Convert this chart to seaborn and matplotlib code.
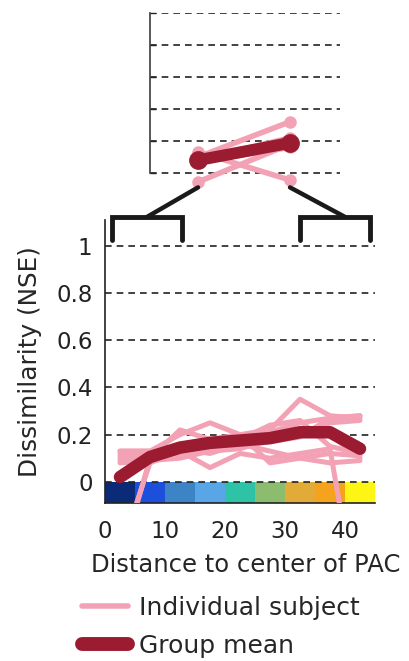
import numpy as np
import pandas as pd
import matplotlib.pyplot as plt
import seaborn as sns
from matplotlib.lines import Line2D
from matplotlib.patches import ConnectionPatch

# distance bins (mm from center of PAC)
distance = [2.5, 7.5, 12.5, 17.5, 22.5, 27.5, 32.5, 37.5, 42.5]
bin_left = [0, 5, 10, 15, 20, 25, 30, 35, 40]
bin_colors = ["#0b2a78", "#1c4fdc", "#3c84c6", "#58a6e6", "#2ec3a6",
              "#8cbd6e", "#e2ab37", "#f5a31c", "#fdf614"]

# individual subjects
subj_1 = [0.12, 0.12, 0.13, 0.14, 0.15, 0.17, 0.19, 0.27, 0.28]
subj_2 = [0.13, 0.13, 0.20, 0.25, 0.20, 0.22, 0.35, 0.28, 0.27]
subj_3 = [-0.35, 0.10, 0.15, 0.17, 0.17, 0.20, 0.22, 0.20, 0.10]
subj_4 = [-0.30, 0.08, 0.13, 0.06, 0.12, 0.10, 0.12, 0.14, -0.60]
subj_5 = [0.10, 0.11, 0.12, 0.15, 0.17, 0.21, 0.25, 0.27, 0.28]
subj_6 = [0.09, 0.10, 0.22, 0.18, 0.20, 0.08, 0.10, 0.12, 0.11]
subj_7 = [0.11, 0.12, 0.14, 0.12, 0.16, 0.13, 0.10, 0.08, 0.09]
subj_8 = [0.08, 0.09, 0.10, 0.13, 0.14, 0.18, 0.20, 0.25, 0.26]
subj_9 = [0.13, 0.13, 0.14, 0.16, 0.18, 0.24, 0.26, 0.15, 0.12]
group_mean = [0.02, 0.105, 0.145, 0.165, 0.175, 0.185, 0.21, 0.21, 0.14]

# inset: near vs far
inset_x = [1, 2]
inset_subj = [[0.066, -0.022], [-0.028, 0.09], [0.05, 0.16],
              [0.04, 0.11], [0.035, 0.08]]
inset_mean = [0.04, 0.094]

PINK = "#f3a2b5"
DARK = "#9b1b30"
GRID = "#222222"
W, H = 409, 661

subjects = [subj_1, subj_2, subj_3, subj_4, subj_5, subj_6, subj_7, subj_8,
            subj_9]
df = pd.DataFrame({
    "dist": distance * len(subjects),
    "nse": np.concatenate(subjects),
    "subject": np.repeat(np.arange(len(subjects)), len(distance)),
})
df_mean = pd.DataFrame({"dist": distance, "nse": group_mean})

sns.set_theme(style="white")
plt.rcParams["font.family"] = ["DejaVu Sans"]

fig = plt.figure(figsize=(W / 100, H / 100), dpi=100)
ax = fig.add_axes([105 / W, 1 - 503 / H, 270 / W, 283 / H])

# colour strip for distance bins
ax.bar(bin_left, [-0.09] * len(bin_left), width=5, bottom=0, align="edge",
       color=bin_colors, linewidth=0, zorder=1)

for v in np.arange(0, 1.01, 0.2):
    ax.axhline(v, color=GRID, lw=1.2, ls=(0, (4, 3)), zorder=2)

sns.lineplot(data=df, x="dist", y="nse", units="subject", estimator=None,
             color=PINK, lw=3.6, ax=ax, zorder=3, legend=False)
sns.lineplot(data=df_mean, x="dist", y="nse", color=DARK, lw=9,
             solid_capstyle="round", ax=ax, zorder=4, legend=False)

ax.set_xlim(0, 45)
ax.set_ylim(-0.09, 1.11)
ax.set_xticks([0, 10, 20, 30, 40])
ax.set_yticks([0, 0.2, 0.4, 0.6, 0.8, 1])
ax.set_yticklabels(["0", "0.2", "0.4", "0.6", "0.8", "1"])
ax.tick_params(direction="in", length=4, width=1, labelsize=16.5, pad=9,
               colors="#222222")
ax.tick_params(axis="x", pad=12)
for s in ["top", "right"]:
    ax.spines[s].set_visible(False)
for s in ["left", "bottom"]:
    ax.spines[s].set_color("#222222")
    ax.spines[s].set_linewidth(1.2)
ax.set_xlabel("Distance to center of PAC", fontsize=17.5, labelpad=8)
ax.xaxis.set_label_coords(0.52, -0.177)
ax.set_ylabel("Dissimilarity (NSE)", fontsize=17.8, labelpad=10)

# inset
ins = fig.add_axes([150 / W, 1 - 189 / H, 190 / W, 176 / H])
for v in np.arange(0, 0.51, 0.1):
    ins.axhline(v, color=GRID, lw=1.2, ls=(0, (4, 3)), zorder=1)
for vals in inset_subj:
    ins.plot(inset_x, vals, color=PINK, lw=4, marker="o", ms=8,
             solid_capstyle="round", zorder=2, clip_on=False)
ins.plot(inset_x, inset_mean, color=DARK, lw=8.5, marker="o", ms=12.5,
         solid_capstyle="round", zorder=3, clip_on=False)
ins.set_xlim(1 - 48 / 92, 2 + 50 / 92)
ins.set_ylim(-0.05, 0.5)
ins.set_xticks([])
ins.set_yticks(np.arange(0, 0.51, 0.1))
ins.set_yticklabels([])
ins.tick_params(axis="y", direction="in", length=4, width=1, left=True)
for s in ["top", "right", "bottom"]:
    ins.spines[s].set_visible(False)
ins.spines["left"].set_bounds(0, 0.5)
ins.spines["left"].set_color("#444444")
ins.set_facecolor("none")

# brackets marking near / far bins
for x0, x1 in [(1.2, 12.8), (32.5, 44.2)]:
    ax.plot([x0, x0, x1, x1], [1.025, 1.123, 1.123, 1.025], color="#1a1a1a",
            lw=3.5, clip_on=False, solid_joinstyle="miter")
for xa, xb in [(7.0, 1), (40.0, 2)]:
    fig.add_artist(ConnectionPatch(xyA=(xa, 1.123), coordsA=ax.transData,
                                   xyB=(xb, -0.045), coordsB=ins.transData,
                                   color="#1a1a1a", lw=3.2))

handles = [Line2D([], [], color=PINK, lw=4),
           Line2D([], [], color=DARK, lw=10, solid_capstyle="round")]
fig.legend(handles, ["Individual subject", "Group mean"], loc="upper left",
           bbox_to_anchor=(82 / W, 1 - 596 / H), frameon=False, fontsize=18,
           handlelength=1.85, handletextpad=0.42, labelspacing=0.55,
           borderaxespad=0, borderpad=0)

fig.savefig("out.png", dpi=100)
